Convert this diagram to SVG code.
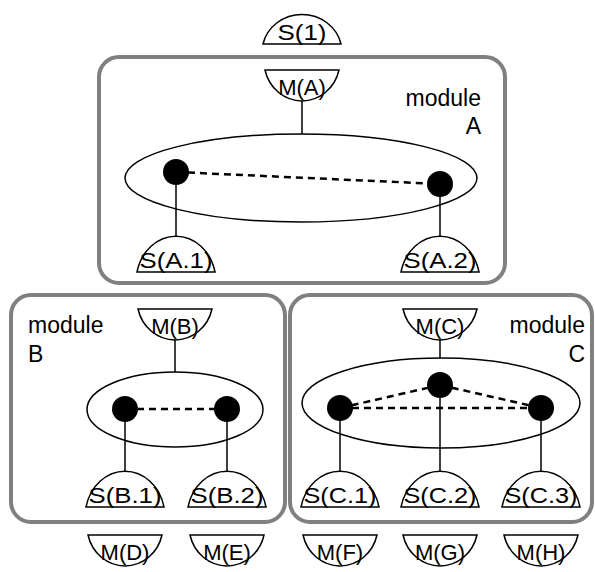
<svg xmlns="http://www.w3.org/2000/svg" width="595" height="572" viewBox="0 0 595 572">
<style>
.mod{fill:none;stroke:#808080;stroke-width:4}
.sh{fill:#fff;stroke:#000;stroke-width:1.5}
.ell{fill:#fff;stroke:#000;stroke-width:1.5}
.ln{stroke:#000;stroke-width:1.5;fill:none}
.dash{stroke:#000;stroke-width:2.5;stroke-dasharray:7,5;fill:none}
.dot{fill:#000}
.lbl{font-family:"Liberation Sans",Arial,sans-serif;font-size:22px;text-anchor:middle;fill:#000}
.mt{font-family:"Liberation Sans",Arial,sans-serif;font-size:23px;fill:#000}
</style>
<rect width="595" height="572" fill="#fff"/>
<g id="moduleA"><rect class="mod" x="99" y="57" width="406" height="226" rx="20"/><text class="mt" x="481" y="106" text-anchor="end">module</text><text class="mt" x="481" y="134" text-anchor="end">A</text></g>
<g id="moduleB"><rect class="mod" x="11" y="295" width="274" height="227" rx="20"/><text class="mt" x="28" y="333">module</text><text class="mt" x="28" y="362">B</text></g>
<g id="moduleC"><rect class="mod" x="290" y="295" width="302" height="227" rx="20"/><text class="mt" x="585" y="333" text-anchor="end">module</text><text class="mt" x="585" y="362" text-anchor="end">C</text></g>
<g id="connectors">
<line class="ln" x1="302" y1="100" x2="302" y2="134"/>
<line class="ln" x1="175" y1="340" x2="175" y2="372"/>
<line class="ln" x1="440" y1="340" x2="440" y2="358"/>
</g>
<g id="ellipseA"><ellipse class="ell" cx="301" cy="178" rx="176" ry="44"/></g>
<g id="ellipseB"><ellipse class="ell" cx="175" cy="409.5" rx="88" ry="37.5"/></g>
<g id="ellipseC"><ellipse class="ell" cx="441" cy="403" rx="139" ry="45"/></g>
<g id="edges">
<line class="ln" x1="176" y1="172" x2="176" y2="238"/>
<line class="ln" x1="440" y1="184" x2="440" y2="238"/>
<line class="ln" x1="125" y1="409" x2="125" y2="473"/>
<line class="ln" x1="227" y1="409" x2="227" y2="473"/>
<line class="ln" x1="340" y1="408" x2="340" y2="473"/>
<line class="ln" x1="440" y1="385" x2="440" y2="473"/>
<line class="ln" x1="541" y1="408" x2="541" y2="473"/>
<line class="dash" x1="176" y1="172" x2="440" y2="184"/>
<line class="dash" x1="125" y1="409" x2="227" y2="409"/>
<line class="dash" x1="340" y1="408" x2="440" y2="385"/>
<line class="dash" x1="440" y1="385" x2="541" y2="408"/>
<line class="dash" x1="340" y1="408" x2="541" y2="408"/>
</g>
<g id="dotA1"><circle class="dot" cx="176" cy="172" r="13"/></g>
<g id="dotA2"><circle class="dot" cx="440" cy="184" r="13"/></g>
<g id="dotB1"><circle class="dot" cx="125" cy="409" r="13"/></g>
<g id="dotB2"><circle class="dot" cx="227" cy="409" r="13"/></g>
<g id="dotC1"><circle class="dot" cx="340" cy="408" r="13"/></g>
<g id="dotC2"><circle class="dot" cx="440" cy="385" r="13"/></g>
<g id="dotC3"><circle class="dot" cx="541" cy="408" r="13"/></g>
<g id="S1"><path class="sh" d="M263,44 A40,38 0 0 1 341,44 Z"/><text class="lbl" x="302" y="40" textLength="49" lengthAdjust="spacingAndGlyphs">S(1)</text></g>
<g id="MA"><path class="sh" d="M265,70 A38,40 0 0 0 339,70 Z"/><text class="lbl" x="302" y="95">M(A)</text></g>
<g id="SA1"><path class="sh" d="M137,272 A40,46 0 0 1 215,272 Z"/><text class="lbl" x="176" y="268" textLength="73" lengthAdjust="spacingAndGlyphs">S(A.1)</text></g>
<g id="SA2"><path class="sh" d="M401,272 A40,46 0 0 1 479,272 Z"/><text class="lbl" x="440" y="268" textLength="73" lengthAdjust="spacingAndGlyphs">S(A.2)</text></g>
<g id="MB"><path class="sh" d="M138,309 A38,40 0 0 0 212,309 Z"/><text class="lbl" x="175" y="334">M(B)</text></g>
<g id="MC"><path class="sh" d="M403,309 A38,40 0 0 0 477,309 Z"/><text class="lbl" x="440" y="334">M(C)</text></g>
<g id="SB1"><path class="sh" d="M86,507 A40,46 0 0 1 164,507 Z"/><text class="lbl" x="125" y="503" textLength="73" lengthAdjust="spacingAndGlyphs">S(B.1)</text></g>
<g id="SB2"><path class="sh" d="M188,507 A40,46 0 0 1 266,507 Z"/><text class="lbl" x="227" y="503" textLength="73" lengthAdjust="spacingAndGlyphs">S(B.2)</text></g>
<g id="SC1"><path class="sh" d="M301,507 A40,46 0 0 1 379,507 Z"/><text class="lbl" x="340" y="503" textLength="73" lengthAdjust="spacingAndGlyphs">S(C.1)</text></g>
<g id="SC2"><path class="sh" d="M401,507 A40,46 0 0 1 479,507 Z"/><text class="lbl" x="440" y="503" textLength="73" lengthAdjust="spacingAndGlyphs">S(C.2)</text></g>
<g id="SC3"><path class="sh" d="M502,507 A40,46 0 0 1 580,507 Z"/><text class="lbl" x="541" y="503" textLength="73" lengthAdjust="spacingAndGlyphs">S(C.3)</text></g>
<g id="MD"><path class="sh" d="M88,535 A38,40 0 0 0 162,535 Z"/><text class="lbl" x="125" y="560">M(D)</text></g>
<g id="ME"><path class="sh" d="M190,535 A38,40 0 0 0 264,535 Z"/><text class="lbl" x="227" y="560">M(E)</text></g>
<g id="MF"><path class="sh" d="M303,535 A38,40 0 0 0 377,535 Z"/><text class="lbl" x="340" y="560">M(F)</text></g>
<g id="MG"><path class="sh" d="M403,535 A38,40 0 0 0 477,535 Z"/><text class="lbl" x="440" y="560">M(G)</text></g>
<g id="MH"><path class="sh" d="M504,535 A38,40 0 0 0 578,535 Z"/><text class="lbl" x="541" y="560">M(H)</text></g>
</svg>
